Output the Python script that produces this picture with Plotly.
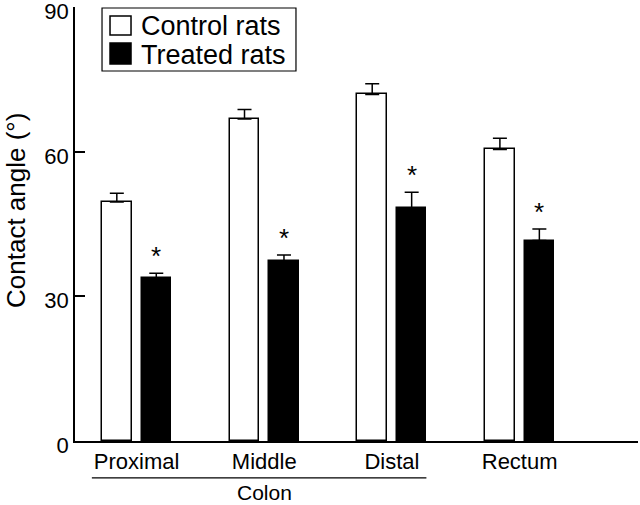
import plotly.graph_objects as go

categories = ["Proximal", "Middle", "Distal", "Rectum"]
control_vals = [49.6, 66.8, 71.9, 60.5]
control_err = [1.8, 2.0, 2.2, 2.3]
treated_vals = [33.8, 37.3, 48.4, 41.6]
treated_err = [1.0, 1.3, 3.2, 2.4]
y_ticks = [0, 30, 60, 90]
series_names = ["Control rats", "Treated rats"]
series_fill = ["white", "black"]
group_label = "Colon"
y_title = "Contact angle (°)"

xpos = list(range(len(categories)))
FONT = "Liberation Sans, Arial, sans-serif"
BW = 0.231

fig = go.Figure()
fig.add_trace(go.Bar(
    x=xpos, y=control_vals, width=BW, offset=-0.27,
    marker=dict(color=series_fill[0], line=dict(color="black", width=1.5)),
    error_y=dict(type="data", symmetric=False, array=control_err,
                 arrayminus=[0] * len(control_err), color="black",
                 thickness=1.5, width=7),
    showlegend=False, name=series_names[0]))
fig.add_trace(go.Bar(
    x=xpos, y=treated_vals, width=BW, offset=0.039,
    marker=dict(color=series_fill[1], line=dict(color="black", width=1.5)),
    error_y=dict(type="data", symmetric=False, array=treated_err,
                 arrayminus=[0] * len(treated_err), color="black",
                 thickness=1.5, width=7),
    showlegend=False, name=series_names[1]))

# significance asterisks
for i, (v, e) in enumerate(zip(treated_vals, treated_err)):
    fig.add_annotation(x=i + 0.039 + BW / 2, y=v + e, text="*", showarrow=False,
                       yanchor="bottom", yshift=0,
                       font=dict(size=26, color="black", family=FONT))

# legend box (drawn in paper coordinates)
fig.add_shape(type="rect", xref="paper", yref="paper", x0=0.048, x1=0.3925,
              y0=0.8525, y1=0.9977, line=dict(color="black", width=1.2),
              fillcolor="white", layer="above")
leg_sq_y = [(0.9355, 0.9793), (0.8687, 0.917)]
leg_txt_y = [0.9562, 0.8894]
for name, fill, (sy0, sy1), ty in zip(series_names, series_fill, leg_sq_y, leg_txt_y):
    fig.add_shape(type="rect", xref="paper", yref="paper", x0=0.0622, x1=0.0995,
                  y0=sy0, y1=sy1, line=dict(color="black", width=1.5),
                  fillcolor=fill, layer="above")
    fig.add_annotation(x=0.1137, xref="paper", y=ty, yref="paper", text=name,
                       showarrow=False, xanchor="left", yanchor="middle",
                       font=dict(size=27, color="black", family=FONT))

# Colon bracket line and label
fig.add_shape(type="line", xref="x", yref="paper", x0=-0.35, x1=2.27,
              y0=-0.085, y1=-0.085, line=dict(color="black", width=1.2))
fig.add_annotation(x=1, xref="x", y=-0.1475, yref="paper", text=group_label,
                   showarrow=False, yanchor="bottom", borderpad=0,
                   font=dict(size=21, color="black", family=FONT))

# y-axis title
fig.add_annotation(x=-0.1332, xref="paper", y=0.53, yref="paper", text=y_title,
                   textangle=-90, showarrow=False, xanchor="left", yanchor="middle",
                   borderpad=0,
                   font=dict(size=26, color="black", family=FONT))

fig.update_layout(
    width=640, height=505,
    margin=dict(l=75, r=2, t=7, b=64, autoexpand=False),
    paper_bgcolor="white", plot_bgcolor="white",
    font=dict(family=FONT, color="black", size=22),
    bargap=0, showlegend=False,
    xaxis=dict(range=[-0.482, 3.927], tickvals=xpos, ticktext=categories,
               showline=True, linecolor="black", linewidth=1.5,
               ticks="", showgrid=False, zeroline=False, automargin=False,
               tickfont=dict(size=22), fixedrange=True),
    yaxis=dict(range=[0, 90.05], tickvals=y_ticks, showline=True,
               linecolor="black", linewidth=1.5, ticks="inside",
               ticklen=10, tickwidth=1.5, tickcolor="black",
               showgrid=False, zeroline=False, automargin=False,
               ticklabeloverflow="allow", ticklabelshift=4,
               tickfont=dict(size=22)),
)

fig.write_html("out.html", config={"displayModeBar": False},
               post_script="document.body.style.margin='0px';")
